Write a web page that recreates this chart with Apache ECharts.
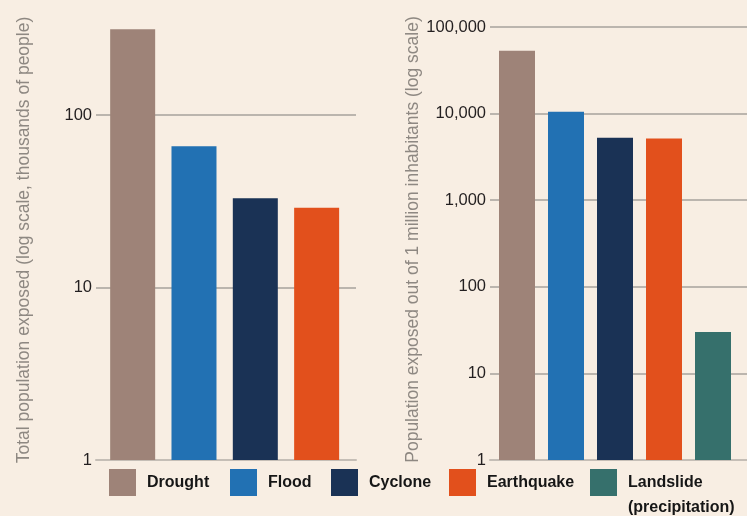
<!DOCTYPE html>
<html><head><meta charset="utf-8">
<script src="https://cdn.jsdelivr.net/npm/echarts@6/dist/echarts.min.js"></script>
<style>html,body{margin:0;padding:0;background:#f8eee3;} #c{width:747px;height:516px;}</style>
</head><body><div id="c"></div>
<script>
// ---- data ----
const hazards = ['Drought', 'Flood', 'Cyclone', 'Earthquake', 'Landslide\n(precipitation)'];
const totalExposed = [315, 66, 33, 29];                 // thousands of people (left panel)
const exposedPerMillion = [53300, 10500, 5250, 5150, 30]; // per 1 million inhabitants (right panel)
const leftAxisMin = 1, leftAxisMax = 356;
const rightAxisMin = 1, rightAxisMax = 100000;
const leftAxisTitle = 'Total population exposed (log scale, thousands of people)';
const rightAxisTitle = 'Population exposed out of 1 million inhabitants (log scale)';

// ---- styles ----
const colors = ['#9e8378', '#2271b3', '#1a3255', '#e2501c', '#36706c'];
const FONT = "'Liberation Sans', Arial, sans-serif";
const gridColor = '#a7a29c';
const baseColor = '#c5beb6';
const legendLeft = [109, 230, 331, 449, 590];

const isDecade = v => { const l = Math.log10(v); return Math.abs(l - Math.round(l)) < 1e-6; };
const fmt = v => isDecade(v) ? Math.round(v).toLocaleString('en-US') : '';

function lineAxis(min, max, title, showMax, gap, namePad) {
  return {
    type: 'log', logBase: 10, min: min, max: max,
    axisLine: { show: false }, axisTick: { show: false },
    axisLabel: { formatter: fmt, fontFamily: FONT, fontSize: 16.5, color: '#231f20', margin: 4 },
    splitLine: { show: true, showMinLine: false, showMaxLine: showMax, lineStyle: { color: gridColor, width: 1.5 } },
    name: title, nameLocation: 'middle', nameRotate: 90, nameGap: gap,
    nameTextStyle: { fontFamily: FONT, fontSize: 17.5, color: '#8e8882', padding: namePad }
  };
}
function hiddenLog(min, max) { return { type: 'log', logBase: 10, min: min, max: max, show: false }; }

const leftCats = hazards.slice(0, totalExposed.length);
const series = [];
hazards.forEach((h, i) => {
  if (i < totalExposed.length) {
    series.push({
      name: h, type: 'bar', xAxisIndex: 1, yAxisIndex: 1, barWidth: 45, barGap: '-100%',
      itemStyle: { color: colors[i] },
      data: leftCats.map((c, j) => j === i ? totalExposed[i] : '-')
    });
  }
  series.push({
    name: h, type: 'bar', xAxisIndex: 3, yAxisIndex: 3, barWidth: 36, barGap: '-100%',
    itemStyle: { color: colors[i] },
    data: hazards.map((c, j) => j === i ? exposedPerMillion[i] : '-')
  });
});

const chart = echarts.init(document.getElementById('c'));
chart.setOption({
  backgroundColor: '#f8eee3',
  animation: false,
  grid: [
    { left: 96, width: 260, top: 20, height: 440 },
    { left: 102, width: 245.3, top: 20, height: 440 },
    { left: 490, width: 257, top: 27, height: 433 },
    { left: 492.5, width: 245, top: 27, height: 433 }
  ],
  xAxis: [
    { gridIndex: 0, type: 'category', data: leftCats, axisTick: { show: false }, axisLabel: { show: false },
      axisLine: { lineStyle: { color: baseColor, width: 2 } } },
    { gridIndex: 1, type: 'category', data: leftCats, show: false },
    { gridIndex: 2, type: 'category', data: hazards, axisTick: { show: false }, axisLabel: { show: false },
      axisLine: { lineStyle: { color: baseColor, width: 2 } } },
    { gridIndex: 3, type: 'category', data: hazards, show: false }
  ],
  yAxis: [
    Object.assign({ gridIndex: 0 }, lineAxis(leftAxisMin, leftAxisMax, leftAxisTitle, false, 63, [0, 0, 0, 0])),
    Object.assign({ gridIndex: 1 }, hiddenLog(leftAxisMin, leftAxisMax)),
    Object.assign({ gridIndex: 2 }, lineAxis(rightAxisMin, rightAxisMax, rightAxisTitle, true, 65, [0, 0, 0, 8])),
    Object.assign({ gridIndex: 3 }, hiddenLog(rightAxisMin, rightAxisMax))
  ],
  legend: hazards.map((h, i) => ({
    data: [h], left: legendLeft[i], top: i === 4 ? 445 : 469, padding: 0,
    icon: 'rect', itemWidth: 27, itemHeight: 27,
    formatter: i === 4 ? (name => '\n' + name) : (name => name),
    textStyle: { fontFamily: FONT, fontSize: 16, fontWeight: 'bold', color: '#161616', lineHeight: 25,
      padding: [0, 0, 0, 6] }
  })),
  series: series
});
</script></body></html>
